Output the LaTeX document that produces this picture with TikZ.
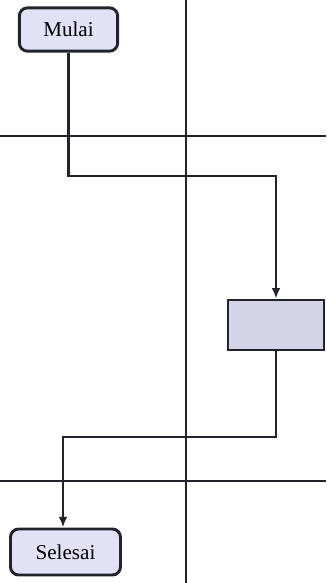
\documentclass[tikz,border=0pt]{standalone}
\usepackage{fontspec}
\setmainfont{Liberation Serif}
\usepackage{tikz}
\usetikzlibrary{arrows.meta, positioning}
\definecolor{inkline}{RGB}{35,35,45}
\definecolor{termfill}{RGB}{226,226,246}
\definecolor{procfill}{RGB}{212,212,230}
\tikzset{
  termbox/.style={rectangle, rounded corners=7pt, draw=inkline, line width=2.5pt, fill=termfill, align=center, inner sep=2pt},
  procbox/.style={rectangle, draw=inkline, line width=2.2pt, fill=procfill, inner sep=0pt},
  laneline/.style={draw=inkline, line width=1.4pt},
  flowarr/.style={draw=inkline, line width=2.2pt, -{Latex[length=3.2mm, width=2.6mm]}},
}

\begin{document}
\begin{tikzpicture}[x=0.03cm, y=-0.03cm, font=\fontsize{18}{21}\selectfont]
\useasboundingbox (0,0) rectangle (326,583);
% lanes
\draw[laneline] (186,0) -- (186,583);
\draw[laneline] (0,136) -- (326,136);
\draw[laneline] (0,481) -- (326,481);
% nodes
\node[termbox, minimum width=2.95cm, minimum height=1.3cm] (mulai) at (68.5,29.5) {Mulai};
\node[procbox, minimum width=2.88cm, minimum height=1.5cm] (proses) at (276,325) {};
\node[termbox, minimum width=3.3cm, minimum height=1.38cm] (selesai) at (65.5,552) {Selesai};
\coordinate (k1) at (68.5,176);
\coordinate (k2) at (276,437);
\coordinate (k3) at (63,437);
% connectors
\draw[flowarr] (mulai.south) -- (k1) -| (proses.north);
\draw[flowarr] (proses.south) -- (k2) -- (k3) -- (k3 |- selesai.north);
\end{tikzpicture}
\end{document}
